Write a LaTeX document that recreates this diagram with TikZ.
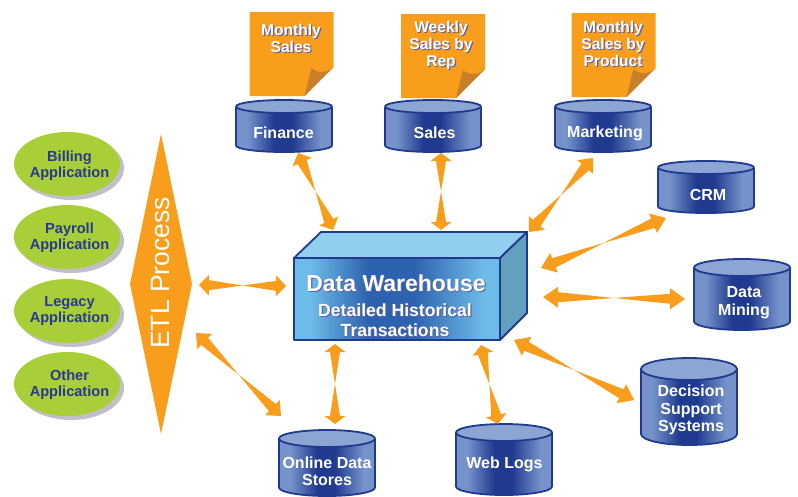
\documentclass[tikz,border=0pt]{standalone}
\usepackage{fontspec}
\setmainfont{Liberation Sans}
\usetikzlibrary{calc}
\definecolor{orangeA}{HTML}{F99D1C}
\definecolor{foldC}{HTML}{C77F2A}
\definecolor{navyC}{HTML}{1F3A8F}
\definecolor{cylEdge}{HTML}{7592CA}
\definecolor{cylTop}{HTML}{8DA5D3}
\definecolor{greenC}{HTML}{A9CF38}
\definecolor{grayC}{HTML}{BFC0C9}
\definecolor{appText}{HTML}{2A3990}
\definecolor{boxEdge}{HTML}{6DBBE8}
\definecolor{boxMid}{HTML}{2C62AE}
\definecolor{boxTop}{HTML}{92CFEE}
\definecolor{boxSide}{HTML}{62A0BE}
\definecolor{shadowC}{HTML}{5E62A8}
\pgfdeclarehorizontalshading{cylshade}{100bp}{
  color(0bp)=(cylEdge); color(31bp)=(cylEdge); color(45bp)=(navyC); color(54bp)=(navyC); color(69bp)=(cylEdge); color(100bp)=(cylEdge)}
\pgfdeclarehorizontalshading{boxshade}{100bp}{
  color(0bp)=(boxEdge); color(29bp)=(boxEdge); color(43bp)=(boxMid); color(54bp)=(boxMid); color(71bp)=(boxEdge); color(100bp)=(boxEdge)}
\tikzset{
  outline/.style={draw=navyC,line width=1.8pt,line join=round},
  lbl/.style={font=\bfseries\fontsize{16}{17.5}\selectfont,text=white,align=center},
  apptext/.style={font=\bfseries\fontsize{14.6}{16}\selectfont,text=appText,align=center},
  bigtxt/.style={font=\bfseries\fontsize{23}{25}\selectfont,align=center},
  subtxt/.style={font=\bfseries\fontsize{17.6}{19.5}\selectfont,align=center},
  notetxt/.style={font=\bfseries\fontsize{15.6}{17}\selectfont,align=center},
}
\newcommand{\shadowtext}[4]{% style, name, position, text
  \node[#1,text=shadowC] at ($(#3)+(1.2,1.2)$) {#4};
  \node[#1,text=white] (#2) at (#3) {#4};
}
% cylinder: name, left x, top y, bottom y, ellipse radius, text x offset, text y, text
\newcommand{\dbcyl}[8]{%
  \begin{scope}[shift={(#2,#3)}]
    \shade[shading=cylshade]
      (0,#5) -- (0,#4-#3-#5) arc[start angle=180,end angle=360,x radius=48,y radius=-#5] -- (96,#5) -- cycle;
    \draw[outline] (0,#5) -- (0,#4-#3-#5) arc[start angle=180,end angle=360,x radius=48,y radius=-#5] -- (96,#5);
    \draw[outline,fill=cylTop] (48,#5) ellipse[x radius=48,y radius=#5];
    \node[lbl] (#1) at (48+#6,#7-#3) {#8};
  \end{scope}
}
\newcommand{\appoval}[4]{%
  \fill[grayC] (71,#2+4) ellipse[x radius=53,y radius=32];
  \fill[greenC] (67,#2) ellipse[x radius=53,y radius=32];
  \node[apptext] (#1) at (69.5,#3) {#4};
}
\newcommand{\reportpage}[3]{%
  \begin{scope}[shift={(#2,#3)}]
    \fill[orangeA] (0,0) -- (84,0) -- (84,55) -- (55,84) -- (0,84) -- cycle;
    \fill[foldC] (55,84) -- (62,56) .. controls (68,62) and (78,61) .. (84,55) -- cycle;
    \coordinate (#1) at (42,0);
  \end{scope}
}
% double-headed arrow narrowing to a point at its middle: end, end, head length
\newcommand{\dblarrow}[3]{%
  \coordinate (ma) at ($(#1)!0.5!(#2)$);
  \coordinate (pa) at ($(#1)!#3pt!(#2)$);
  \coordinate (pb) at ($(#2)!#3pt!(#1)$);
  \fill[orangeA] (#1)
    -- ($(pa)!10.5pt!90:(#2)$) -- ($(pa)!5pt!90:(#2)$) -- (ma)
    -- ($(pb)!5pt!-90:(#1)$) -- ($(pb)!10.5pt!-90:(#1)$) -- (#2)
    -- ($(pb)!10.5pt!90:(#1)$) -- ($(pb)!5pt!90:(#1)$) -- (ma)
    -- ($(pa)!5pt!-90:(#2)$) -- ($(pa)!10.5pt!-90:(#2)$) -- cycle;
}
\begin{document}
\begin{tikzpicture}[x=1pt,y=-1pt]
\useasboundingbox (0,0) rectangle (798,496);
% reports
\reportpage{noteA}{249.5}{12}
\reportpage{noteB}{401}{14}
\reportpage{noteC}{571.5}{13}
\shadowtext{notetxt}{reportA}{291,38.5}{Monthly\\Sales}
\shadowtext{notetxt}{reportB}{441,45}{Weekly\\Sales by\\Rep}
\shadowtext{notetxt}{reportC}{613,44}{Monthly\\Sales by\\Product}
% cylinders
\dbcyl{finance}{236}{100}{152}{6.5}{-0.5}{133}{Finance}
\dbcyl{sales}{385}{100}{152}{6.5}{1.5}{133}{Sales}
\dbcyl{marketing}{555}{100}{152}{6.5}{2}{133}{Marketing}
\dbcyl{crm}{658}{161}{213}{6.5}{2}{195}{CRM}
\dbcyl{mining}{694}{259}{330}{8.5}{2}{302.5}{Data\\Mining}
\dbcyl{decision}{641}{358}{445}{11}{2}{410}{Decision\\Support\\Systems}
\dbcyl{weblogs}{456}{424}{495}{8.5}{0.5}{464}{Web Logs}
\dbcyl{online}{279}{430}{496}{8.5}{0}{471.5}{Online Data\\Stores}
% applications
\appoval{billing}{164}{165.5}{Billing\\Application}
\appoval{payroll}{237}{237.5}{Payroll\\Application}
\appoval{legacy}{311}{310.5}{Legacy\\Application}
\appoval{other}{384}{385}{Other\\Application}
% ETL
\fill[orangeA] (161,134) -- (192,284) -- (161,434) -- (130,284) -- cycle;
\node[rotate=90,text=white,font=\fontsize{26.5}{29}\selectfont] (etl) at (161,273) {ETL Process};
% warehouse
\shade[shading=boxshade] (294,258) rectangle (500,340);
\draw[outline,fill=boxTop] (294,258) -- (321,232) -- (527,232) -- (500,258) -- cycle;
\draw[outline,fill=boxSide] (500,258) -- (527,232) -- (527,313) -- (500,340) -- cycle;
\draw[outline] (294,258) rectangle (500,340);
\shadowtext{bigtxt}{warehouse}{396,283}{Data Warehouse}
\shadowtext{subtxt}{detail}{395,320}{Detailed Historical\\Transactions}
% connector ends
\coordinate (a1) at (298,153); \coordinate (b1) at (333,230);
\coordinate (a2) at (441,153); \coordinate (b2) at (441,230);
\coordinate (a3) at (593,158); \coordinate (b3) at (529,232);
\coordinate (a4) at (666,218); \coordinate (b4) at (541,268);
\coordinate (a5) at (685,299); \coordinate (b5) at (543,297);
\coordinate (a6) at (634,400); \coordinate (b6) at (514,340);
\coordinate (a7) at (498,424); \coordinate (b7) at (481,345);
\coordinate (a8) at (335,424); \coordinate (b8) at (335,344);
\coordinate (a9) at (281,416); \coordinate (b9) at (196,333);
\coordinate (a10) at (199,285); \coordinate (b10) at (286,286);
\dblarrow{a1}{b1}{10}
\dblarrow{a2}{b2}{8}
\dblarrow{a3}{b3}{12}
\dblarrow{a4}{b4}{14}
\dblarrow{a5}{b5}{15}
\dblarrow{a6}{b6}{14}
\dblarrow{a7}{b7}{9}
\dblarrow{a8}{b8}{8}
\dblarrow{a9}{b9}{12}
\dblarrow{a10}{b10}{10}
\end{tikzpicture}
\end{document}
